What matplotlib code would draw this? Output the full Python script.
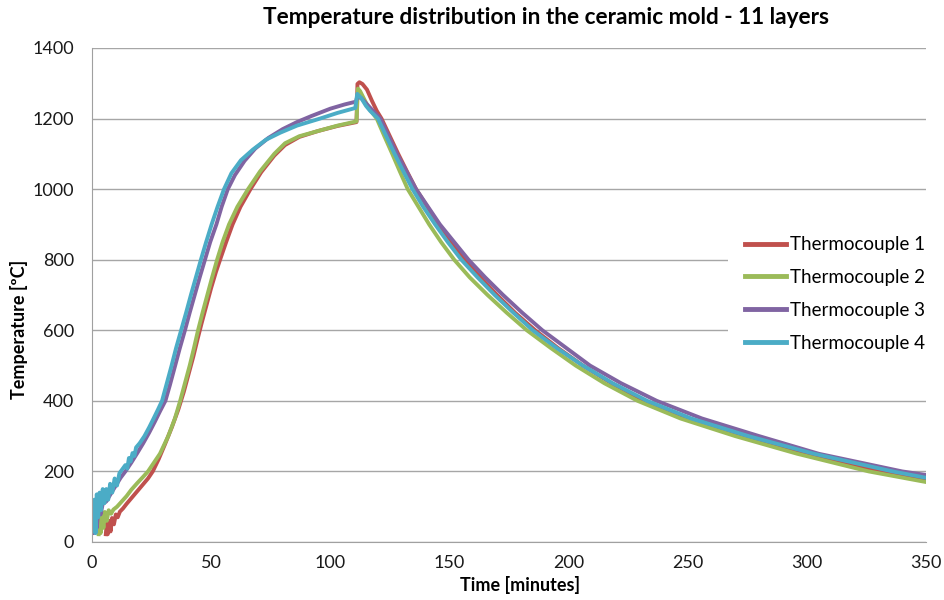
import matplotlib
matplotlib.use('Agg')
import matplotlib.pyplot as plt

plt.rcParams['font.family'] = ['Lato', 'DejaVu Sans']

# values (time in minutes, temperature in degC)
t1 = [5.8, 6.2, 6.6, 7.2, 7.8, 8.4, 9.2, 10, 10.8, 11.7, 13, 14.5, 16.5, 18.5,
      21, 23.5, 25.5, 28, 30.5, 33.5, 36.2, 38.5, 40.5, 42.5, 44.3, 46, 48, 50,
      52, 54, 56.3, 59, 62.3, 66.5, 71, 76.5, 81, 87, 95, 103, 111,
      111.4, 112.2, 113.5, 115.4, 117.5, 119.5, 121.5, 125, 128.5, 132.2, 136,
      140.7, 145.5, 151, 156.5, 163, 170, 177.5, 186, 195.5, 206, 218, 231.5,
      250, 273.5, 299, 331, 350]
temp1 = [22, 55, 22, 60, 30, 68, 50, 78, 70, 86, 95, 108, 124, 140,
         160, 180, 200, 235, 275, 325, 375, 425, 475, 525, 575, 620, 670, 720,
         765, 805, 850, 900, 950, 1000, 1048, 1095, 1125, 1148, 1165, 1179, 1190,
         1298, 1303, 1298, 1282, 1250, 1222, 1200, 1150, 1100, 1050, 1000,
         950, 900, 850, 800, 750, 700, 650, 600, 550, 500, 450, 400,
         350, 300, 250, 200, 176]

t2 = [2.8, 3.2, 3.6, 4.2, 4.8, 5.4, 6.2, 7, 8, 9, 10.5, 12.5, 14.5, 16.5,
      19, 21.5, 23.5, 28.5, 32, 34.8, 37, 39, 41, 42.8, 44.5, 46.4, 48.4, 50.4,
      52.5, 54.8, 57.5, 61, 65.5, 70.5, 76.5, 81, 87, 95, 103, 111,
      111.6, 112.5, 114, 116, 117.8, 119.5, 122.7, 126, 129.2, 132.5, 137,
      141.5, 146.5, 152, 158.5, 166, 174, 182.5, 192.5, 203, 215, 229,
      247, 270, 296, 326, 350]
temp2 = [22, 80, 25, 85, 40, 85, 60, 90, 80, 92, 100, 115, 130, 148,
         167, 185, 200, 250, 300, 350, 400, 450, 500, 550, 600, 650, 700, 750,
         800, 850, 900, 950, 1000, 1050, 1100, 1130, 1150, 1165, 1180, 1192,
         1285, 1278, 1258, 1232, 1215, 1200, 1150, 1100, 1050, 1000, 950,
         900, 850, 800, 750, 700, 650, 600, 550, 500, 450, 400,
         350, 300, 250, 200, 170]

t3 = [0, 0.6, 1.2, 2, 2.8, 3.6, 4.5, 6, 8, 10, 12, 14, 16.5, 19, 21.5, 24,
      26.3, 28.5, 30.8, 32.7, 34.7, 36.8, 39, 41, 43.1, 45.2, 47.4, 49.6, 52.2,
      54.4, 57, 60, 64, 68.5, 74, 80, 86, 92, 100, 106, 110.8,
      111.3, 113, 116, 118.5, 121, 124.5, 128, 132, 136, 141, 146, 152, 158,
      165, 172.5, 180.5, 189, 199, 209, 222, 237, 256, 280, 305, 340, 350]
temp3 = [50, 25, 80, 40, 100, 78, 108, 115, 138, 160, 182, 200, 225, 252, 280, 310,
         340, 370, 400, 445, 495, 548, 600, 650, 700, 750, 800, 850, 900,
         950, 1000, 1040, 1080, 1115, 1145, 1170, 1190, 1207, 1228, 1240, 1248,
         1262, 1258, 1236, 1218, 1200, 1150, 1100, 1050, 1000, 950, 900, 850, 800,
         750, 700, 650, 600, 550, 500, 450, 400, 350, 300, 250, 200, 190]

t4 = [0, 0.5, 1, 1.5, 2, 2.6, 3.2, 3.8, 4.5, 5.2, 6, 6.8, 7.6, 8.5, 9.5, 10.5,
      11.5, 12.6, 14, 14.8, 15.5, 16.2, 17, 17.8, 18.5, 20, 22, 24, 26, 27.8,
      29.4, 31.4, 33.4, 35.3, 37.4, 39.5, 41.5, 43.6, 45.7, 47.9, 50.2, 52.7,
      55.4, 58.5, 62.5, 67.5, 73, 79, 86, 95.7, 103, 110.5,
      111.3, 113, 115, 116.7, 120, 123.5, 127, 130.7, 134.5, 139, 144, 149.3,
      155, 161.8, 169, 176.8, 185, 195, 206, 218.5, 233, 251.5, 275.5, 303,
      336, 350]
temp4 = [80, 30, 120, 25, 135, 70, 140, 90, 150, 110, 150, 120, 165, 140, 180, 160,
         195, 205, 218, 208, 238, 228, 252, 244, 268, 280, 300, 325, 352, 377,
         400, 450, 500, 550, 600, 650, 700, 750, 800, 850, 900, 950,
         1000, 1045, 1082, 1112, 1140, 1160, 1180, 1200, 1216, 1230,
         1270, 1258, 1236, 1222, 1200, 1150, 1100, 1050, 1000, 950, 900, 850,
         800, 750, 700, 650, 600, 550, 500, 450, 400, 350, 300, 250,
         200, 182]

series = [
    (t1, temp1, 'Thermocouple 1', '#C0504D'),
    (t2, temp2, 'Thermocouple 2', '#9BBB59'),
    (t3, temp3, 'Thermocouple 3', '#8064A2'),
    (t4, temp4, 'Thermocouple 4', '#4BACC6'),
]
x_ticks = [0, 50, 100, 150, 200, 250, 300, 350]
y_ticks = [0, 200, 400, 600, 800, 1000, 1200, 1400]


def main():
    fig = plt.figure(figsize=(9.45, 6), dpi=100)
    ax = fig.add_axes([92 / 945, 1 - 542 / 600, 834 / 945, 494 / 600])

    for t, temp, label, color in series:
        ax.plot(t, temp, color=color, lw=2.8, label=label, solid_joinstyle='round')

    ax.set_xlim(0, 350)
    ax.set_ylim(0, 1400)
    ax.set_xticks(x_ticks)
    ax.set_yticks(y_ticks)
    ax.tick_params(length=0, labelsize=13, colors='#1a1a1a')
    ax.tick_params(axis='y', pad=13)
    ax.tick_params(axis='x', pad=9)
    ax.grid(True, axis='y', color='#a6a6a6', lw=1)
    ax.set_axisbelow(True)
    for side in ['top', 'right']:
        ax.spines[side].set_visible(False)
    for side in ['left', 'bottom']:
        ax.spines[side].set_color('#a0a0a0')

    ax.set_xlabel('Time [minutes]', fontsize=13, fontweight='bold')
    ax.xaxis.set_label_coords((520 - 92) / 834, -(576 - 542) / 494)
    ax.set_ylabel('Temperature [ºC]', fontsize=13, fontweight='bold')
    ax.yaxis.set_label_coords(-(92 - 28) / 834, (542 - 329) / 494)
    fig.text(546 / 945, 1 - 18 / 600, 'Temperature distribution in the ceramic mold - 11 layers',
             ha='center', va='center', fontsize=16.3, fontweight='bold')

    leg = ax.legend(loc='center left', bbox_to_anchor=(0.7626, 0.502), fontsize=13.5,
                    frameon=True, facecolor='white', edgecolor='none', framealpha=1,
                    handlelength=2.2, handletextpad=0.2, labelspacing=0.85,
                    borderpad=0.9, borderaxespad=0, fancybox=False)
    for line in leg.get_lines():
        line.set_linewidth(3.5)

    plt.savefig('out.png', dpi=100)


if __name__ == '__main__':
    main()
